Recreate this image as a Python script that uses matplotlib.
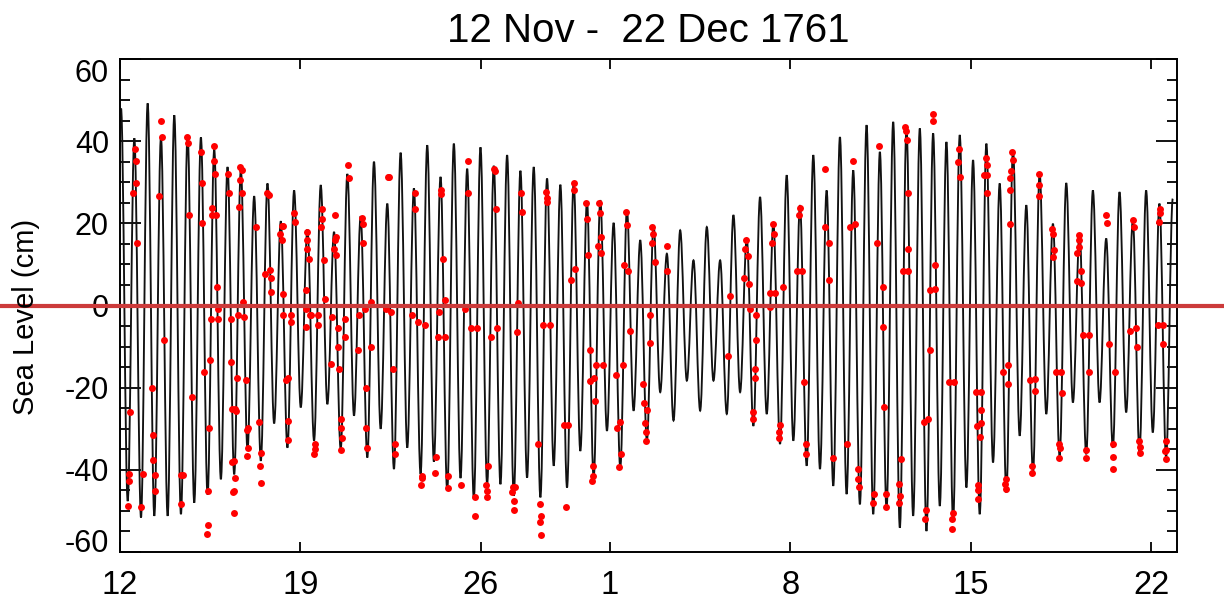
import numpy as np
import matplotlib
matplotlib.use('Agg')
import matplotlib.pyplot as plt
from matplotlib.path import Path
from matplotlib.patches import PathPatch
from matplotlib.ticker import MultipleLocator

plt.rcParams['font.family'] = ['Liberation Sans', 'DejaVu Sans']

# ---------------- data ----------------
title = '12 Nov -  22 Dec 1761'
ylabel = 'Sea Level (cm)'
day_ticks = [0, 7, 14, 19, 26, 33, 40]          # days after 12 Nov 1761
day_labels = ['12', '19', '26', '1', '8', '15', '22']
y_ticks = [-60, -40, -20, 0, 20, 40, 60]

first_high_day = 0.04      # time of first high water (days after 12 Nov)
half_tide_days = 0.2582    # time between successive high and low water

high_water_cm = [48.0, 40.7, 49.2, 41.0, 46.3, 41.5, 40.9, 38.0, 33.7, 33.0, 26.6, 29.7, 20.5, 28.0,
                 18.5, 29.3, 17.9, 32.0, 21.7, 35.0, 24.8, 37.2, 28.5, 39.0, 31.3, 39.4, 33.3,
                 38.5, 34.0, 36.6, 32.8, 33.7, 30.9, 29.4, 30.0, 25.2, 25.6, 20.1, 23.2, 15.9, 19.5,
                 12.6, 18.3, 11.0, 19.1, 11.0, 22.0, 16.3, 26.4, 19.9, 31.7, 24.4, 36.6, 28.0, 41.0,
                 32.9, 43.9, 37.4, 44.7, 43.1, 43.1, 41.9, 39.8, 41.5, 35.4, 39.4, 29.7, 37.8,
                 24.4, 32.1, 19.9, 29.8, 17.5, 28.0, 16.3, 27.6, 20.7, 28.0, 24.8, 26.0]

low_water_cm = [-47.6, -51.6, -51.2, -51.2, -50.8, -48.0, -46.0, -42.3, -41.1, -35.0, -37.8, -28.7, -34.6,
                -24.8, -32.9, -24.0, -35.0, -26.8, -37.0, -30.0, -39.8, -34.6, -41.0, -38.0, -45.0, -42.0, -47.0,
                -43.5, -43.5, -46.3, -41.9, -46.7, -39.0, -44.3, -35.4, -41.9, -30.5, -39.4, -25.6, -32.9,
                -21.1, -28.0, -18.3, -25.6, -18.3, -26.4, -21.1, -29.3, -26.4, -33.7, -32.9, -39.0, -39.8, -43.9,
                -45.9, -48.4, -50.8, -49.6, -54.1, -51.2, -54.9, -48.8, -52.4, -44.3, -50.8, -38.2, -45.5,
                -31.7, -40.7, -26.4, -36.6, -23.6, -36.2, -23.6, -34.6, -26.0, -35.4, -30.9, -37.0]

obs_day = [
    0.58, 0.61, 0.61, 0.49, 0.65, 0.39, 0.35, 0.35, 0.32,
    1.59, 1.62, 1.51, 1.25, 1.28, 1.29, 1.36, 1.36, 0.81, 0.88, 1.72,
    2.60, 2.65, 2.67, 2.78, 2.37, 2.43, 2.36,
    3.14, 3.19, 3.19, 3.27, 3.49, 3.46, 3.42, 3.40, 3.36,
    3.64, 3.66, 3.67, 3.58, 3.58, 3.72, 3.77, 3.79, 3.53, 3.79,
    4.17, 4.21, 4.30, 4.30, 4.52, 4.35, 4.46, 4.51, 4.42, 4.33, 4.46, 4.42, 4.37, 4.42,
    4.66, 4.72, 4.66, 4.72, 4.61, 4.79, 4.56, 4.81, 4.87, 4.91, 4.97, 4.97, 4.91,
    5.26, 5.39, 5.47, 5.44, 5.47, 5.72, 5.78, 5.61, 5.81, 5.84, 5.84,
    6.33, 6.27, 6.19, 6.27, 6.34, 6.34, 6.65, 6.65, 6.50, 6.42, 6.52, 6.50, 6.74, 6.78,
    7.27, 7.27, 7.25, 7.33, 7.20, 7.20, 7.20, 7.36, 7.40, 7.56, 7.58, 7.53,
    7.82, 7.82, 7.78, 7.92, 7.95, 7.69, 7.69,
    8.33, 8.36, 8.33, 8.31, 8.39, 8.18, 8.24, 8.44, 8.46, 8.49, 8.57, 8.59, 8.63, 8.59,
    8.85, 8.88, 8.72, 8.72,
    9.37, 9.43, 9.43, 9.26, 9.24, 9.50, 9.75, 9.75, 9.53, 9.56, 9.60,
    10.40, 10.44, 10.30, 10.53, 10.58, 10.66, 10.68,
    11.46, 11.43, 11.33, 11.56, 11.82, 11.72, 11.73, 11.69,
    12.47, 12.47, 12.53, 12.60, 12.36, 12.34, 12.60, 12.24, 12.21, 12.73, 12.73,
    13.48, 13.50, 13.37, 13.60, 13.86, 13.24, 13.76, 13.76,
    14.51, 14.53, 14.57, 14.38, 14.64, 14.28, 14.21, 14.25, 14.25,
    15.44, 15.41, 15.54, 15.61, 15.25, 15.34, 15.21, 15.28, 15.28,
    16.21, 16.28, 16.34, 16.30, 16.32, 16.54, 16.58, 16.58, 16.41, 16.67,
    17.22, 17.38, 17.31, 17.60, 17.60, 17.51, 17.66,
    18.09, 18.13, 18.15, 18.22, 18.24, 18.45, 18.73, 18.44, 18.39, 18.35, 18.35, 18.31,
    18.58, 18.62, 18.67, 18.54, 18.67,
    19.38, 19.29, 19.42, 19.35, 19.51, 19.25, 19.64, 19.68, 19.55, 19.70, 19.77,
    20.28, 20.31, 20.45, 20.35, 20.39, 20.41, 20.65, 20.67, 20.63, 20.74, 20.57, 20.54,
    21.23, 21.23, 23.68, 23.60,
    24.30, 24.25, 24.35, 24.20, 24.39, 24.43, 24.68, 24.68, 24.65, 24.65, 24.55, 24.55,
    25.32, 25.35, 25.30, 25.23, 25.41, 25.71, 25.21, 25.62, 25.57, 25.58,
    26.36, 26.33, 26.27, 26.46, 26.55, 26.61, 26.61,
    27.35, 27.33, 27.49, 27.52, 27.65,
    28.42, 28.33, 28.51, 28.19, 28.64, 28.64, 28.68,
    29.46, 29.37, 29.59, 29.59, 29.63, 29.24, 29.21, 29.72, 29.72,
    30.45, 30.49, 30.53, 30.56, 30.58, 30.39, 30.58, 30.30, 30.23, 30.25, 30.23,
    31.52, 31.54, 31.40, 31.63, 31.61, 31.40, 31.18, 31.36, 31.27, 31.24,
    32.56, 32.52, 32.60, 32.17, 32.36, 32.30, 32.26, 32.27,
    33.59, 33.62, 33.53, 33.63, 33.63, 33.20, 33.40, 33.40, 33.40, 33.24, 33.37, 33.29, 33.29, 33.29,
    34.60, 34.63, 34.56, 34.54, 34.54, 34.53, 34.24, 34.46, 34.43, 34.37, 34.34, 34.37,
    35.63, 35.63, 35.63, 35.30, 35.49, 35.49, 35.37, 35.37,
    36.15, 36.20, 36.21, 36.20, 36.30, 36.50, 36.54, 36.41, 36.46, 36.43,
    37.21, 37.21, 37.21, 37.14, 37.27, 37.14, 37.27, 37.34, 37.60, 37.57, 37.47, 37.47,
    38.24, 38.27, 38.37, 38.60, 38.50, 38.53, 38.53,
    39.28, 39.32, 39.17, 39.41, 39.43, 39.53, 39.56, 39.56,
    40.34, 40.34, 40.31, 40.25, 40.44, 40.46, 40.57, 40.59, 40.54, 40.57,
]

obs_cm = [
    38.2, 35.1, 29.7, 27.4, 15.2, -26.0, -41.1, -42.8, -48.8,
    45.0, 41.1, 26.6, -20.1, -31.5, -37.6, -41.3, -45.1, -49.0, -40.9, -8.5,
    41.1, 39.6, 22.0, -22.2, -41.3, -41.3, -48.2,
    37.3, 29.7, 20.2, -16.1, -13.2, -29.8, -45.1, -53.5, -55.7,
    38.9, 35.1, 32.0, 23.7, 22.1, 22.1, 4.6, -0.8, -3.3, -3.2,
    32.0, 27.4, -3.3, -13.8, -17.7, -25.2, -25.2, -25.8, -37.8, -38.2, -42.0, -45.1, -45.5, -50.6,
    33.6, 32.9, 30.5, 27.4, 24.0, 0.8, -2.4, -2.8, -18.1, -30.3, -29.7, -34.7, -36.7,
    19.1, -28.3, -36.0, -39.0, -43.3, 27.4, 27.0, 7.6, 8.7, 6.7, 3.3,
    19.3, 19.3, 17.5, 16.0, 2.7, -2.4, -2.4, -3.9, -17.7, -18.1, -28.0, -32.8, 22.6, 20.4,
    17.9, 15.9, 13.7, 11.4, 3.8, -0.8, -5.3, -2.2, -2.4, -33.7, -35.0, -36.2,
    23.6, 21.1, 19.1, 11.1, 1.7, -2.4, -4.7,
    22.1, 16.7, 15.9, 13.7, 12.2, -14.2, -2.7, -5.4, -10.2, -15.4, -27.6, -29.9, -32.3, -35.2,
    34.3, 31.1, -3.3, -7.7,
    21.4, 19.8, 15.2, -2.4, -10.8, -0.8, 0.8, -10.2, -20.0, -29.9, -34.6,
    31.3, 31.3, -0.8, -1.6, -15.4, -33.7, -36.2,
    27.4, 23.6, -2.4, -4.0, -4.7, -41.5, -42.1, -43.7,
    28.0, 27.2, 11.4, 1.4, -1.6, -7.7, -7.7, -36.8, -40.7, -41.5, -44.5,
    35.1, 27.4, -0.8, -5.4, -5.4, -43.7, -46.7, -51.2,
    33.3, 32.8, 23.6, -7.7, -5.4, -39.0, -43.7, -45.1, -46.7,
    0.6, -6.5, 27.4, 22.8, -44.3, -44.3, -45.3, -47.6, -49.8,
    -33.7, -48.2, -51.2, -52.8, -55.9, 27.6, 26.2, 25.2, -4.7, -4.7,
    -29.1, -29.1, -49.0, 29.7, 28.0, 6.1, 8.9,
    25.0, 21.1, 12.2, -10.8, -18.3, -14.6, -14.6, -23.2, -17.7, -39.0, -41.5, -42.8,
    25.0, 22.6, 16.7, 14.4, 12.8,
    -28.3, -29.9, -36.2, -39.4, -14.6, -16.9, 22.8, 19.7, 9.9, 8.3, -6.3,
    -19.1, -23.8, -25.4, -28.6, -30.7, -33.1, 19.1, 17.3, 15.2, 10.6, -2.4, -9.2,
    14.4, 8.4, 2.2, -12.4,
    15.9, 13.7, 12.0, 6.7, 5.3, -0.8, -2.4, -8.5, -15.4, -17.7, -26.0, -27.6,
    19.9, 17.5, 15.2, 3.0, 3.0, 4.5, -0.4, -29.1, -30.7, -32.3,
    23.7, 22.0, 8.3, 8.3, -18.5, -33.7, -36.2,
    33.3, 19.1, 15.2, 6.1, -37.0,
    35.1, 19.1, 19.8, -33.7, -39.8, -42.3, -44.3,
    38.8, 15.2, 4.5, -5.3, -24.6, -45.9, -48.0, -45.9, -49.0,
    43.5, 42.5, 40.4, 27.4, 13.7, 8.4, 8.4, -37.4, -43.5, -46.3, -48.0,
    46.6, 44.9, 3.7, 4.1, 9.8, -10.8, -28.3, -27.6, -49.8, -52.0,
    38.2, 35.0, 31.3, -18.5, -18.5, -50.4, -52.0, -54.5,
    35.8, 34.1, 31.7, 31.7, 27.4, -21.0, -21.1, -25.4, -28.5, -29.4, -31.9, -43.7, -45.0, -47.0,
    37.4, 35.4, 32.7, 31.1, 28.0, 19.8, -16.3, -14.6, -19.1, -42.3, -43.5, -44.7,
    31.9, 29.4, 26.6, -18.1, -17.9, -20.7, -39.0, -40.7,
    18.5, 17.5, 13.4, 11.8, -16.3, -16.3, -21.4, -33.7, -34.7, -37.0,
    17.1, 15.9, 14.2, 12.8, 8.3, 5.9, 5.5, -7.1, -7.1, -16.3, -35.2, -37.0,
    22.0, 20.1, -9.3, -16.3, -33.7, -36.8, -39.8,
    20.9, 19.1, -6.3, -5.4, -10.0, -32.9, -34.4, -36.0,
    23.6, 22.4, 20.3, -4.7, -4.7, -9.3, -32.9, -35.2, -35.5, -37.4,
]
assert len(obs_day) == len(obs_cm)

# ---------------- tide curve (high/low waters joined smoothly) ----------------
levels = []
for i, h in enumerate(high_water_cm):
    levels.append(h)
    if i < len(low_water_cm):
        levels.append(low_water_cm[i])
times = first_high_day + half_tide_days * np.arange(len(levels))

k = 0.3634
verts = [(times[0], levels[0])]
codes = [Path.MOVETO]
for t0, v0, t1, v1 in zip(times[:-1], levels[:-1], times[1:], levels[1:]):
    dt = t1 - t0
    verts += [(t0 + k * dt, v0), (t1 - k * dt, v1), (t1, v1)]
    codes += [Path.CURVE4] * 3

# ---------------- figure ----------------
fig = plt.figure(figsize=(12.24, 6.12), dpi=100)
ax = fig.add_axes([120 / 1224, 60 / 612, 1057 / 1224, 493 / 612])

ax.add_patch(PathPatch(Path(verts, codes), fill=False, edgecolor='#111111',
                       lw=1.35, zorder=2))
ax.plot(obs_day, obs_cm, 'o', color='#ff0000', ms=5, mec='none', zorder=3)

ax.axhline(0, xmin=-0.12, xmax=1.06, color='#cc3b3b', lw=3, clip_on=False, zorder=6)

ax.set_xlim(0, 41)
ax.set_ylim(-60, 60)
ax.set_xticks(day_ticks, day_labels)
ax.set_yticks(y_ticks, [str(v) for v in y_ticks])
ax.yaxis.set_minor_locator(MultipleLocator(5))

ax.tick_params(which='both', direction='in', top=True, right=True,
               width=1.3, color='black')
ax.tick_params(axis='y', which='major', length=15, labelsize=22, pad=8)
ax.tick_params(axis='y', which='minor', length=7)
ax.tick_params(axis='x', which='major', length=7, labelsize=23.5, pad=13)

yt = ax.yaxis.get_major_ticks()
yt[0].label1.set_verticalalignment('baseline')
yt[-1].label1.set_verticalalignment('top')

for s in ax.spines.values():
    s.set_linewidth(1.4)

ax.set_title(title, fontsize=29, pad=12)
fig.text(0.021, 0.482, ylabel, rotation=90, va='center', ha='center', fontsize=21)

fig.savefig('out.png', dpi=100)
